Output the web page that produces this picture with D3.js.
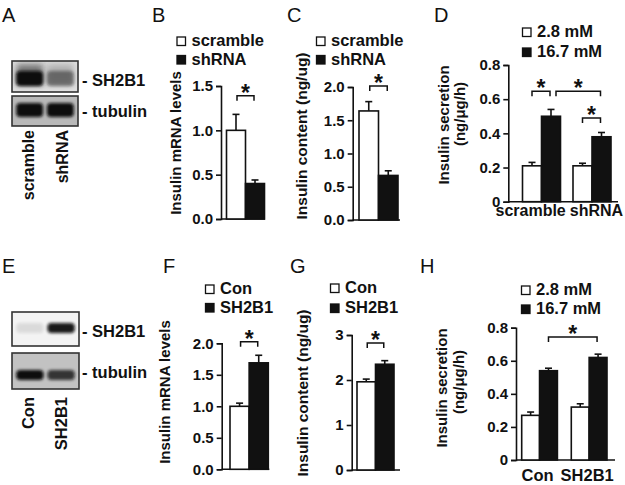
<!DOCTYPE html>
<html><head><meta charset="utf-8">
<script src="https://cdnjs.cloudflare.com/ajax/libs/d3/7.8.5/d3.min.js"></script>
<style>
body{margin:0;background:#fff;}
svg{display:block;font-family:"Liberation Sans",Arial,Helvetica,sans-serif;}
</style></head><body>
<svg id="fig" width="625" height="485"></svg>
<script>
// ---------------- data ----------------
const shCats = ["scramble", "shRNA"];
const ohCats = ["Con", "SH2B1"];
const glucose = ["2.8 mM", "16.7 mM"];

const bMrna = [1.00, 0.40];
const bMrnaErr = [0.18, 0.04];
const bTicks = [0, 0.5, 1.0, 1.5];
const bSig = [[0, 1, 1.39]];

const cContent = [1.64, 0.67];
const cContentErr = [0.14, 0.07];
const cTicks = [0, 0.5, 1.0, 1.5, 2.0];
const cSig = [[0, 1, 2.015]];

const dLow = [0.21, 0.21];
const dLowErr = [0.02, 0.015];
const dHigh = [0.50, 0.38];
const dHighErr = [0.04, 0.025];
const dTicks = [0, 0.2, 0.4, 0.6, 0.8];
const dSig = [["scramble", 0, "scramble", 1, 0.647], ["scramble", 1, "shRNA", 1, 0.647], ["shRNA", 0, "shRNA", 1, 0.49]];

const fMrna = [1.00, 1.69];
const fMrnaErr = [0.05, 0.12];
const fTicks = [0, 0.5, 1.0, 1.5, 2.0];
const fSig = [[0, 1, 2.025]];

const gContent = [1.96, 2.35];
const gContentErr = [0.06, 0.08];
const gTicks = [0, 1, 2, 3];
const gSig = [[0, 1, 2.82]];

const hLow = [0.27, 0.32];
const hLowErr = [0.02, 0.02];
const hHigh = [0.54, 0.62];
const hHighErr = [0.015, 0.02];
const hTicks = [0, 0.2, 0.4, 0.6, 0.8];
const hSig = [["Con", 1, "SH2B1", 1, 0.744]];

// western blot band intensities (relative)
const aSH2B1 = [1.0, 0.45];
const aTubulin = [1.0, 1.0];
const eSH2B1 = [0.10, 0.95];
const eTubulin = [1.0, 0.78];

// ---------------- drawing ----------------
const svg = d3.select("#fig");
const FONT = "'Liberation Sans', Arial, Helvetica, sans-serif";
const INK = "#111";

const defs = svg.append("defs");
defs.append("filter").attr("id", "blur").attr("x", "-30%").attr("y", "-60%").attr("width", "160%").attr("height", "220%")
  .append("feGaussianBlur").attr("stdDeviation", 1.8);
defs.append("filter").attr("id", "blur2").attr("x", "-30%").attr("y", "-60%").attr("width", "160%").attr("height", "220%")
  .append("feGaussianBlur").attr("stdDeviation", 3);

function txt(g, s, x, y, size, weight, anchor) {
  return g.append("text").attr("x", x).attr("y", y).attr("font-size", size)
    .attr("font-weight", weight || "bold").attr("text-anchor", anchor || "start")
    .attr("fill", INK).attr("font-family", FONT).text(s);
}
function letter(t, x, y) { txt(svg, t, x, y, 20, "normal"); }
function rotText(s, x, y, size, anchor) {
  return svg.append("text").attr("transform", `translate(${x},${y}) rotate(-90)`)
    .attr("font-size", size).attr("font-weight", "bold").attr("text-anchor", anchor || "middle")
    .attr("fill", INK).attr("font-family", FONT).text(s);
}

function yAxis(g, y, ticks, fmt) {
  g.call(d3.axisLeft(y).tickValues(ticks).tickFormat(fmt).tickSizeOuter(0).tickSize(5).tickPadding(3));
  g.attr("font-family", FONT).attr("font-size", 15);
  g.select(".domain").attr("stroke", INK).attr("stroke-width", 1.6);
  g.selectAll(".tick line").attr("stroke", INK).attr("stroke-width", 1.6);
  g.selectAll(".tick text").attr("font-weight", "bold").attr("fill", INK);
}

function errorBar(g, cx, yTop, yErr) {
  g.append("line").attr("x1", cx).attr("x2", cx).attr("y1", yTop).attr("y2", yErr).attr("stroke", INK).attr("stroke-width", 1.6);
  g.append("line").attr("x1", cx - 3.5).attr("x2", cx + 3.5).attr("y1", yErr).attr("y2", yErr).attr("stroke", INK).attr("stroke-width", 1.6);
}
function bar(g, x, w, yTop, y0, dark) {
  g.append("rect").attr("x", x).attr("y", yTop).attr("width", w).attr("height", y0 - yTop)
    .attr("fill", dark ? "#111" : "#fff").attr("stroke", INK).attr("stroke-width", 1.6);
}
function bracket(g, xa, xb, yb) {
  g.append("path").attr("d", `M${xa},${yb + 5}V${yb}H${xb}V${yb + 5}`).attr("fill", "none").attr("stroke", INK).attr("stroke-width", 1.5);
  txt(g, "*", (xa + xb) / 2, yb + 5, 23, "bold", "middle");
}
function legend(x, yb1, yb2, labels, size) {
  const g = svg.append("g");
  [yb1, yb2].forEach((yb, i) => {
    g.append("rect").attr("x", x).attr("y", yb - 9).attr("width", 8.5).attr("height", 8.5)
      .attr("fill", i ? "#111" : "#fff").attr("stroke", INK).attr("stroke-width", 1.3);
    txt(g, labels[i], x + 14.5, yb, size);
  });
}

function simplePanel(o) {
  const g = svg.append("g");
  const y = d3.scaleLinear().domain([0, o.ticks[o.ticks.length - 1]]).range([o.y0, o.yTop]);
  yAxis(g.append("g").attr("transform", `translate(${o.ax},0)`), y, o.ticks, o.fmt);
  g.append("line").attr("x1", o.ax).attr("x2", o.xRight).attr("y1", o.y0).attr("y2", o.y0).attr("stroke", INK).attr("stroke-width", 1.6);
  const x = d3.scaleBand().domain(o.cats).range([o.barL, o.barR]);
  o.cats.forEach((c, i) => {
    const cx = x(c) + x.bandwidth() / 2;
    errorBar(g, cx, y(o.vals[i]), y(o.vals[i] + o.errs[i]));
    bar(g, x(c), x.bandwidth(), y(o.vals[i]), o.y0, i === 1);
  });
  o.sig.forEach(s => {
    const xa = x(o.cats[s[0]]) + x.bandwidth() / 2 + 1, xb = x(o.cats[s[1]]) + x.bandwidth() / 2 - 1;
    bracket(g, xa, xb, y(s[2]));
  });
}

function groupPanel(o) {
  const g = svg.append("g");
  const y = d3.scaleLinear().domain([0, o.ticks[o.ticks.length - 1]]).range([o.y0, o.yTop]);
  yAxis(g.append("g").attr("transform", `translate(${o.ax},0)`), y, o.ticks, o.fmt);
  g.append("line").attr("x1", o.ax).attr("x2", o.xRight).attr("y1", o.y0).attr("y2", o.y0).attr("stroke", INK).attr("stroke-width", 1.6);
  const x0 = d3.scaleBand().domain(o.groups).range([o.barL, o.barR]).paddingInner(o.pad);
  const x1 = d3.scaleBand().domain(glucose).range([0, x0.bandwidth()]);
  const vals = [o.low, o.high], errs = [o.lowErr, o.highErr];
  const cxOf = (grp, si) => x0(grp) + x1(glucose[si]) + x1.bandwidth() / 2;
  o.groups.forEach((grp, gi) => {
    glucose.forEach((s, si) => {
      const v = vals[si][gi], e = errs[si][gi];
      errorBar(g, cxOf(grp, si), y(v), y(v + e));
      bar(g, x0(grp) + x1(s), x1.bandwidth(), y(v), o.y0, si === 1);
    });
  });
  const ends = [];
  o.sig.forEach(s => {
    let xa = cxOf(s[0], s[1]), xb = cxOf(s[2], s[3]);
    if (ends.some(e => Math.abs(e - xa) < 3)) xa += 5;
    ends.push(xb);
    bracket(g, xa, xb - 1, y(s[4]));
  });
  // category labels
  if (o.split) {
    const mid = (x0(o.groups[0]) + x0.bandwidth() + x0(o.groups[1])) / 2 + 1;
    txt(g, o.groups[0], mid - 2, o.y0 + o.labDy, o.labSize, "bold", "end");
    txt(g, o.groups[1], mid + 2, o.y0 + o.labDy, o.labSize, "bold", "start");
  } else {
    o.groups.forEach(grp => txt(g, grp, x0(grp) + x0.bandwidth() / 2 - 2, o.y0 + o.labDy, o.labSize, "bold", "middle"));
  }
}

function blot(x, yTop, w, h, bg, lanes, intens, bandTop, bandH, smear) {
  const g = svg.append("g");
  g.append("rect").attr("x", x).attr("y", yTop).attr("width", w).attr("height", h).attr("fill", bg);
  const lx = d3.scaleBand().domain(lanes).range([x + 2, x + w - 2]).paddingInner(0.06).paddingOuter(0.04);
  const clip = "clip" + Math.round(x) + "_" + Math.round(yTop);
  defs.append("clipPath").attr("id", clip).append("rect").attr("x", x).attr("y", yTop).attr("width", w).attr("height", h);
  const inner = g.append("g").attr("clip-path", `url(#${clip})`);
  lanes.forEach((l, i) => {
    const a = intens[i];
    if (smear) {
      inner.append("rect").attr("x", lx(l) + 1).attr("y", yTop + 3).attr("width", lx.bandwidth() - 2).attr("height", bandTop - yTop + bandH - 4)
        .attr("fill", "#222").attr("opacity", Math.min(1, a * 0.55)).attr("filter", "url(#blur2)");
    }
    inner.append("rect").attr("x", lx(l) + 1).attr("y", bandTop).attr("width", lx.bandwidth() - 2).attr("height", bandH)
      .attr("rx", 4).attr("fill", "#0a0a0a").attr("opacity", a).attr("filter", "url(#blur)");
  });
  g.append("rect").attr("x", x).attr("y", yTop).attr("width", w).attr("height", h)
    .attr("fill", "none").attr("stroke", "#333").attr("stroke-width", 1.6);
}

// ---- Panel A ----
letter("A", 2, 22);
blot(12, 61, 66, 31, "#e0e0e0", shCats, aSH2B1, 71, 15, true);
blot(12, 96, 66, 30, "#b9b9b9", shCats, aTubulin, 103, 14, false);
txt(svg, "- SH2B1", 82, 86, 16.5);
txt(svg, "- tubulin", 82, 117, 16.5);
rotText("scramble", 34, 130, 16, "end");
rotText("shRNA", 68, 130, 16, "end");

// ---- Panel E ----
letter("E", 2, 273);
blot(12, 312, 67, 34, "#f3f3f3", ohCats, eSH2B1, 323, 10, false);
blot(12, 353, 67, 36, "#c2c2c2", ohCats, eTubulin, 370, 10, false);
txt(svg, "- SH2B1", 82, 337, 16.5);
txt(svg, "- tubulin", 82, 378, 16.5);
rotText("Con", 34, 397, 16.5, "end");
rotText("SH2B1", 67, 397, 16.5, "end");

const f1 = d3.format(".1f");
const f0 = d => d === 0 ? "0" : d3.format(".1f")(d);
const fi = d3.format("d");

// ---- Panel B ----
letter("B", 152, 22);
legend(177, 46, 64.5, shCats, 16.5);
rotText("Insulin mRNA levels", 181, 143, 15);
simplePanel({ ax: 221, xRight: 265, y0: 219, yTop: 86, ticks: bTicks, fmt: f1, cats: shCats,
  vals: bMrna, errs: bMrnaErr, sig: bSig, barL: 226.5, barR: 264.5 });

// ---- Panel C ----
letter("C", 287, 22);
legend(316.5, 46, 64.5, shCats, 16.5);
rotText("Insulin content (ng/ug)", 307, 136, 15.5);
simplePanel({ ax: 352.7, xRight: 400, y0: 220, yTop: 87, ticks: cTicks, fmt: f1, cats: shCats,
  vals: cContent, errs: cContentErr, sig: cSig, barL: 359, barR: 398 });

// ---- Panel D ----
letter("D", 434, 22);
legend(522.5, 37, 57, glucose, 16.5);
rotText("Insulin secretion", 449, 125, 15);
rotText("(ng/μg/h)", 465, 114, 15);
groupPanel({ ax: 508.3, xRight: 618, y0: 201.7, yTop: 65, ticks: dTicks, fmt: f0, groups: shCats,
  low: dLow, lowErr: dLowErr, high: dHigh, highErr: dHighErr, sig: dSig, barL: 522.5, barR: 611, pad: 0.2475,
  split: true, labDy: 14.5, labSize: 16 });

// ---- Panel F ----
letter("F", 163, 273);
legend(205.5, 294, 312.5, ohCats, 16.5);
rotText("Insulin mRNA levels", 170, 392, 15);
simplePanel({ ax: 221.7, xRight: 269.3, y0: 469.3, yTop: 343.3, ticks: fTicks, fmt: f1, cats: ohCats,
  vals: fMrna, errs: fMrnaErr, sig: fSig, barL: 230, barR: 268.3 });

// ---- Panel G ----
letter("G", 290, 273);
legend(330.5, 293, 313, ohCats, 16.5);
rotText("Insulin content (ng/ug)", 308, 393, 15.5);
simplePanel({ ax: 351.7, xRight: 400, y0: 470, yTop: 335, ticks: gTicks, fmt: fi, cats: ohCats,
  vals: gContent, errs: gContentErr, sig: gSig, barL: 357, barR: 394 });

// ---- Panel H ----
letter("H", 420, 273);
legend(521.5, 295, 314, glucose, 16.5);
rotText("Insulin secretion", 447, 388, 15);
rotText("(ng/μg/h)", 464, 382, 15);
groupPanel({ ax: 516, xRight: 615, y0: 460, yTop: 327.7, ticks: hTicks, fmt: f0, groups: ohCats,
  low: hLow, lowErr: hLowErr, high: hHigh, highErr: hHighErr, sig: hSig, barL: 521.7, barR: 607, pad: 0.28,
  split: false, labDy: 20.5, labSize: 16.5 });
</script>
</body></html>
